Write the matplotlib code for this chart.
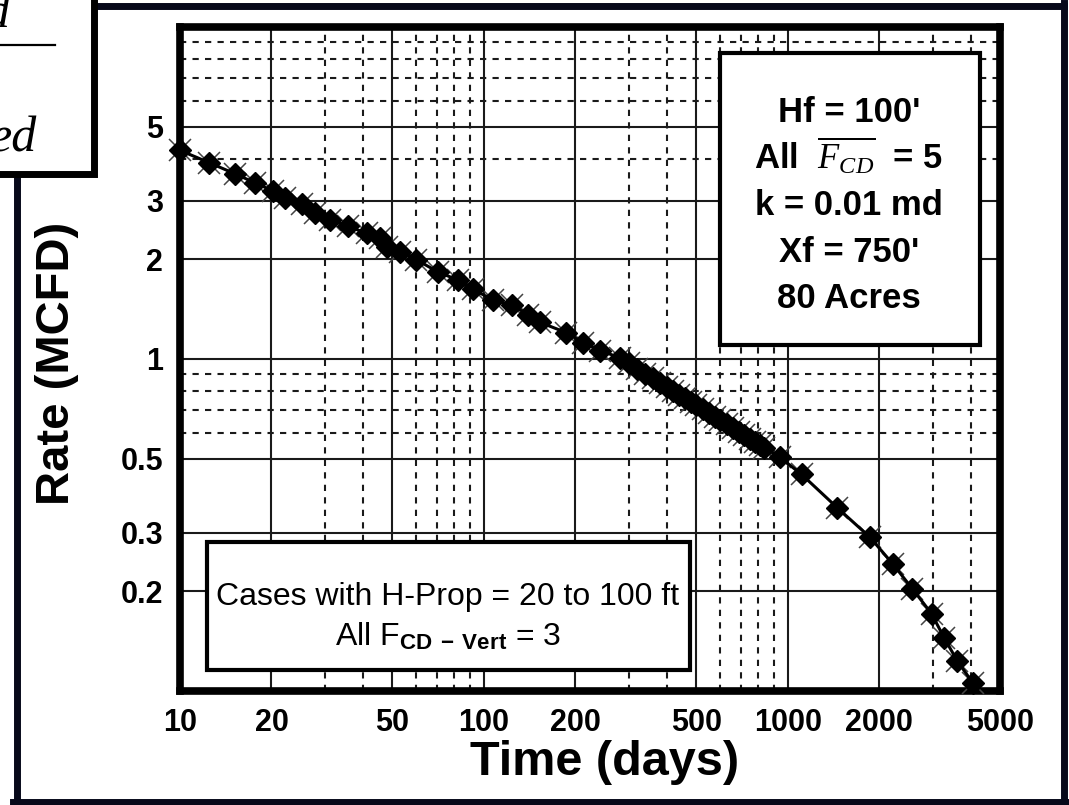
import matplotlib.pyplot as plt
from matplotlib.patches import Rectangle
from matplotlib.lines import Line2D
from matplotlib.ticker import NullFormatter

# picture size in pixels
W, H = 1069, 805

# rate vs time (days, MCFD)
time_days = [10, 12.5, 15.2, 17.7, 20.2, 22.1, 25.2, 27.8, 31.1, 35.7, 41.2, 45.5,
             48, 53, 60, 70.6, 82, 92, 107, 124, 140, 153, 187, 212, 241, 280,
             300, 320, 340, 360, 380, 400, 420, 440, 460, 480, 500, 525, 550,
             575, 600, 630, 660, 690, 720, 750, 780, 810, 835,
             942, 1112, 1459, 1862, 2214, 2576, 2976, 3283, 3622, 4063]
rate_mcfd = [4.25, 3.90, 3.61, 3.39, 3.21, 3.05, 2.93, 2.75, 2.63, 2.51, 2.39, 2.31,
             2.18, 2.10, 1.99, 1.83, 1.73, 1.62, 1.51, 1.45, 1.36, 1.29, 1.20, 1.12, 1.06, 1.01,
             0.97, 0.936, 0.904, 0.875, 0.849, 0.824, 0.802, 0.781, 0.761, 0.743, 0.726, 0.706, 0.688,
             0.670, 0.654, 0.636, 0.620, 0.604, 0.589, 0.576, 0.563, 0.551, 0.541,
             0.506, 0.449, 0.356, 0.291, 0.242, 0.203, 0.171, 0.144, 0.123, 0.106]

x_major = [10, 20, 50, 100, 200, 500, 1000, 2000, 5000]
x_major_labels = ['10', '20', '50', '100', '200', '500', '1000', '2000', '5000']
x_minor = [30, 40, 60, 70, 80, 90, 300, 400, 600, 700, 800, 900, 3000, 4000]
y_major = [0.2, 0.3, 0.5, 1, 2, 3, 5]
y_major_labels = ['0.2', '0.3', '0.5', '1', '2', '3', '5']
y_minor = [0.6, 0.7, 0.8, 0.9, 4, 6, 7, 8, 9]

info_lines = ["Hf = 100'", r"All  $\overline{F_{CD}}$  = 5", "k = 0.01 md", "Xf = 750'", "80 Acres"]
case_lines = ["Cases with H-Prop = 20 to 100 ft", r"All F$_{\mathbf{CD\ -\ Vert}}$ = 3"]

plt.rcParams['mathtext.fontset'] = 'custom'
plt.rcParams['mathtext.it'] = 'Liberation Serif:italic'
plt.rcParams['mathtext.rm'] = 'Liberation Sans'
plt.rcParams['mathtext.bf'] = 'Liberation Sans:bold'

SANS = ['Liberation Sans', 'DejaVu Sans']
SERIF = ['Liberation Serif', 'DejaVu Serif']


def fx(px):
    return px / W


def fy(py):
    return 1 - py / H


fig = plt.figure(figsize=(W / 100, H / 100), dpi=100)
ax = fig.add_axes([fx(180), fy(691), fx(1000) - fx(180), fy(27) - fy(691)])

ax.set_xscale('log')
ax.set_yscale('log')
ax.set_xlim(10, 5000)
ax.set_ylim(0.1, 10)

ax.set_xticks(x_major, labels=x_major_labels)
ax.set_xticks(x_minor, minor=True)
ax.set_yticks(y_major, labels=y_major_labels)
ax.set_yticks(y_minor, minor=True)
ax.xaxis.set_minor_formatter(NullFormatter())
ax.yaxis.set_minor_formatter(NullFormatter())
ax.tick_params(which='both', length=0)
ax.tick_params(axis='x', pad=12)
ax.tick_params(axis='y', pad=12)
for lab in ax.get_xticklabels() + ax.get_yticklabels():
    lab.set_family(SANS)
    lab.set_fontweight('bold')
    lab.set_fontsize(22)

ax.grid(which='major', color='#1a1a1a', lw=1.5, ls='-')
ax.grid(which='minor', color='#1a1a1a', lw=1.5, ls=(0, (3, 3)))
ax.set_axisbelow(True)
for sp in ax.spines.values():
    sp.set_linewidth(5.5)
    sp.set_color('black')

# several nearly identical cases drawn on top of each other
ax.plot(time_days, rate_mcfd, color='black', lw=2.2, marker='D', ms=11,
        clip_on=False, zorder=3)
ax.plot(time_days, rate_mcfd, ls='none', marker='x', ms=16, mew=1.1,
        color='#444444', clip_on=False, zorder=2.9)

# axis titles
fig.text(fx(57), fy(363), 'Rate (MCFD)', rotation=90, ha='center', va='center',
         family=SANS, fontweight='bold', fontsize=34)
fig.text(fx(605), fy(762), 'Time (days)', ha='center', va='center',
         family=SANS, fontweight='bold', fontsize=35)

# parameter box, upper right
fig.add_artist(Rectangle((fx(720), fy(345)), fx(980) - fx(720), fy(53) - fy(345),
                         transform=fig.transFigure, facecolor='white',
                         edgecolor='black', lw=3, zorder=5))
for line, base in zip(info_lines, [122, 168, 215, 262, 308]):
    fig.text(fx(849), fy(base), line, ha='center', va='baseline', family=SANS,
             fontweight='bold', fontsize=25, zorder=6)

# cases box, lower left
fig.add_artist(Rectangle((fx(207), fy(670)), fx(690) - fx(207), fy(542) - fy(670),
                         transform=fig.transFigure, facecolor='white',
                         edgecolor='black', lw=3, zorder=5))
for line, base in zip(case_lines, [605, 645]):
    fig.text(fx(448), fy(base), line, ha='center', va='baseline', family=SANS,
             fontsize=23, zorder=6)

# slide frame
frame_col = '#07091a'
for xs, ys in [([97, 1064], [6.5, 6.5]), ([1064, 1064], [3, 805]),
               ([13, 1067], [801.5, 801.5]), ([16.5, 16.5], [170, 805])]:
    fig.add_artist(Line2D([fx(v) for v in xs], [fy(v) for v in ys],
                          transform=fig.transFigure, color=frame_col, lw=5, zorder=7))

# cut-off box in the top left corner
fig.add_artist(Rectangle((fx(-20), fy(173.5)), fx(93.5) + 20 / W, fy(-20) - fy(173.5),
                         transform=fig.transFigure, facecolor='white',
                         edgecolor='black', lw=5, zorder=8))
fig.add_artist(Line2D([fx(0), fx(55)], [fy(45), fy(45)], transform=fig.transFigure,
                      color='black', lw=1.6, zorder=9))
fig.text(fx(9), fy(27), 'd', ha='right', va='baseline', family=SERIF,
         style='italic', fontsize=36, zorder=9)
fig.text(fx(37), fy(152), 'ed', ha='right', va='baseline', family=SERIF,
         style='italic', fontsize=36, zorder=9)

fig.savefig('out.png', dpi=100)
